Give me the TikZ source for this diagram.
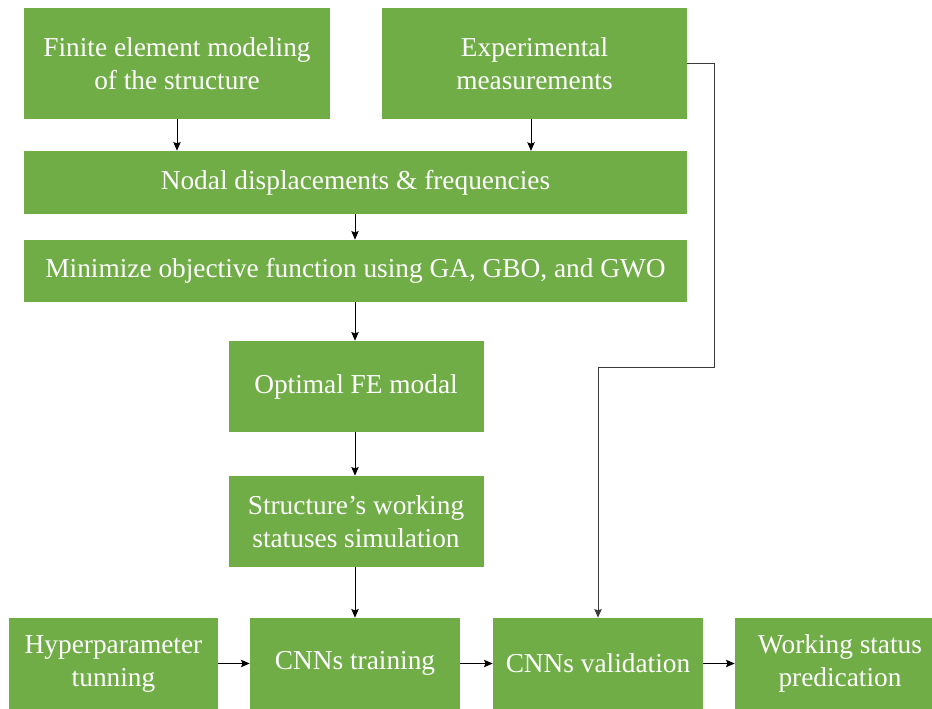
\documentclass[tikz,border=0pt]{standalone}
\usepackage{xcolor}
\usepackage{fontspec}
\setmainfont{Liberation Serif}
\usepackage{tikz}
\usetikzlibrary{arrows.meta,positioning}
\definecolor{boxgreen}{HTML}{70AD47}
\definecolor{loopgray}{HTML}{3A3A3A}

\begin{document}
\begin{tikzpicture}[font=\fontsize{20.5}{24.75}\selectfont, >={Stealth[length=6.5pt,width=5.5pt,inset=1pt]},
	blk/.style 2 args={fill=boxgreen, text=white, align=center, inner sep=0pt, minimum width=#1*0.75pt, minimum height=#2*0.75pt},
	link/.style={->, line width=0.75pt}]

\begin{scope}[x=0.75pt,y=-0.75pt]
	\useasboundingbox (0,0) rectangle (932,709);
	% ---- model updating ----
	\node[blk={306}{111}] (fe) at (177,63.5) {Finite element modeling\\of the structure};
	\node[blk={305}{111}] (exp) at (534.5,63.5) {Experimental\\measurements};
	\node[blk={663}{63}] (nodal) at (355.5,182.5) {Nodal displacements \& frequencies};
	\node[blk={663}{62}] (obj) at (355.5,271) {Minimize objective function using GA, GBO, and GWO};
	\node[blk={255}{91}] (opt) at (356,386.5) {Optimal FE modal};
	\node[blk={255}{91}] (sim) at (356,521.5) {Structure’s working\\statuses simulation};
	% ---- CNNs ----
	\node[blk={209}{91}] (hyp) at (113.5,663.5) {Hyperparameter\\tunning};
	\node[blk={210}{91}] (train) at (355,663.5) {CNNs training};
	\node[blk={210}{91}] (valid) at (598,663.5) {CNNs validation};
	\node[blk={210}{91}] (work) at (840,663.5) {Working status\\predication};
	% connectors
	\draw[link] (fe.south) -- (fe.south |- nodal.north);
	\draw[link] (exp.south -| 531,0) -- (531,151);
	\draw[link] (nodal.south -| train) -- (obj.north -| train);
	\draw[link] (obj.south -| train) -- (opt.north -| train);
	\draw[link] (opt.south -| train) -- (sim.north -| train);
	\draw[link] (sim.south -| train) -- (train.north);
	\draw[link] (hyp) -- (train);
	\draw[link] (train) -- (valid);
	\draw[link] (valid) -- (work);
	\coordinate (bend) at (714,368);
	\draw[link, loopgray] (exp.east) -| (bend) -| (valid.north);
\end{scope}
\end{tikzpicture}
\end{document}
